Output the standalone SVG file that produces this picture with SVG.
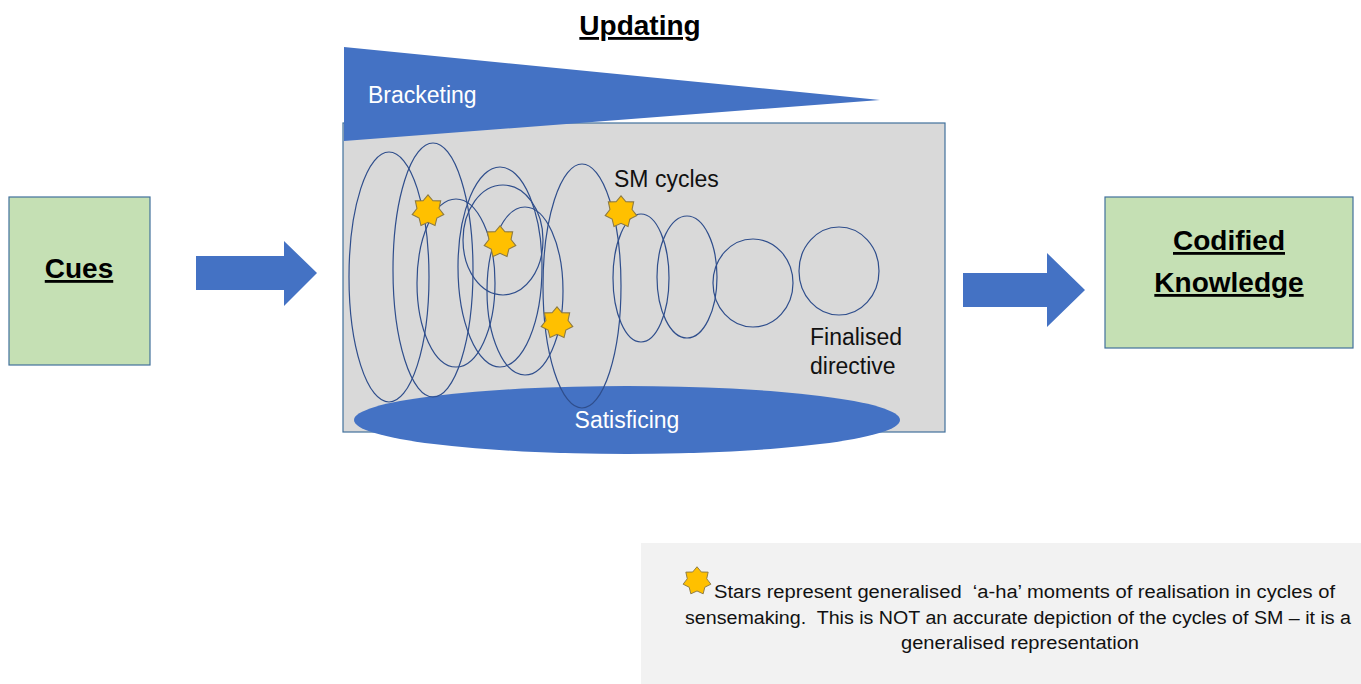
<svg xmlns="http://www.w3.org/2000/svg" xmlns:xlink="http://www.w3.org/1999/xlink" width="1361" height="684" viewBox="0 0 1361 684">
<style>
.box{fill:#c5e0b4;stroke:#41719c;stroke-width:1.2}
.title{font-family:"Liberation Sans",Arial,sans-serif;font-weight:bold;font-size:28px;fill:#000;text-decoration:underline;text-anchor:middle}
.lbl{font-family:"Liberation Sans",Arial,sans-serif;font-size:23px}
.wht{fill:#fff}
.blk{fill:#111}
.cyc{fill:none;stroke:#2f4e8c;stroke-width:1.2}
.arrow{fill:#4472c4}
.legend{font-family:"Liberation Sans",Arial,sans-serif;font-size:18px;fill:#111;white-space:pre}
</style>
<defs>
<path id="star" d="M0,-15 L4.56,-9.46 L11.73,-9.35 L10.24,-2.34 L14.62,3.34 L8.21,6.55 L6.51,13.51 L0,10.5 L-6.51,13.51 L-8.21,6.55 L-14.62,3.34 L-10.24,-2.34 L-11.73,-9.35 L-4.56,-9.46 Z" fill="#ffc000" stroke="#8c7a44" stroke-width="1"/>
</defs>
<rect width="1361" height="684" fill="#fff"/>

<g id="cues">
<rect class="box" x="9" y="197" width="141" height="168"/>
<text class="title" x="79" y="278">Cues</text>
</g>

<g id="updating">
<text class="title" x="640" y="35">Updating</text>
<rect x="343" y="123" width="602" height="309" fill="#d9d9d9" stroke="#41719c" stroke-width="1.2"/>
<polygon points="344,47 880,100 344,141" fill="#4472c4"/>
<text class="lbl wht" x="368" y="103" font-size="24">Bracketing</text>
<ellipse cx="627" cy="420" rx="273" ry="34" fill="#4472c4"/>
<g id="cycles">
<ellipse class="cyc" cx="389" cy="277" rx="40" ry="125"/>
<ellipse class="cyc" cx="433" cy="270" rx="40" ry="127"/>
<ellipse class="cyc" cx="456" cy="283" rx="39" ry="84"/>
<ellipse class="cyc" cx="500" cy="267" rx="42" ry="100"/>
<ellipse class="cyc" cx="503" cy="240" rx="40" ry="55"/>
<ellipse class="cyc" cx="525" cy="291" rx="38" ry="84"/>
<ellipse class="cyc" cx="582" cy="286" rx="39" ry="122"/>
<ellipse class="cyc" cx="641" cy="278" rx="28" ry="64"/>
<ellipse class="cyc" cx="687" cy="277" rx="30" ry="61"/>
<ellipse class="cyc" cx="753" cy="283" rx="40" ry="44"/>
<ellipse class="cyc" cx="839" cy="271" rx="40" ry="44"/>
</g>
<g id="stars">
<use xlink:href="#star" transform="translate(428,211) scale(1.08)"/>
<use xlink:href="#star" transform="translate(500,242) scale(1.08)"/>
<use xlink:href="#star" transform="translate(557,323) scale(1.08)"/>
<use xlink:href="#star" transform="translate(621,212) scale(1.08)"/>
</g>
<text class="lbl blk" x="614" y="187">SM cycles</text>
<text class="lbl blk" x="810" y="345" font-size="20">Finalised</text>
<text class="lbl blk" x="810" y="374" font-size="20">directive</text>
<text class="lbl wht" x="627" y="428" text-anchor="middle" font-size="24">Satisficing</text>
</g>

<g id="codified">
<rect class="box" x="1105" y="197" width="248" height="151"/>
<text class="title" x="1229" y="250">Codified</text>
<text class="title" x="1229" y="292">Knowledge</text>
</g>

<g id="connectors">
<path class="arrow" d="M196,256 L284,256 L284,241 L317,273 L284,306 L284,290 L196,290 Z"/>
<path class="arrow" d="M963,273 L1047,273 L1047,253 L1085,290 L1047,327 L1047,307 L963,307 Z"/>
</g>

<g id="legend">
<rect x="641" y="543" width="720" height="141" fill="#f2f2f2"/>
<use xlink:href="#star" transform="translate(697,581) scale(0.95)"/>
<text class="legend" x="714" y="598" textLength="621" lengthAdjust="spacingAndGlyphs">Stars represent generalised  ‘a-ha’ moments of realisation in cycles of</text>
<text class="legend" x="685" y="624" textLength="666" lengthAdjust="spacingAndGlyphs">sensemaking.  This is NOT an accurate depiction of the cycles of SM – it is a</text>
<text class="legend" x="901" y="649" textLength="238" lengthAdjust="spacingAndGlyphs">generalised representation</text>
</g>
</svg>
